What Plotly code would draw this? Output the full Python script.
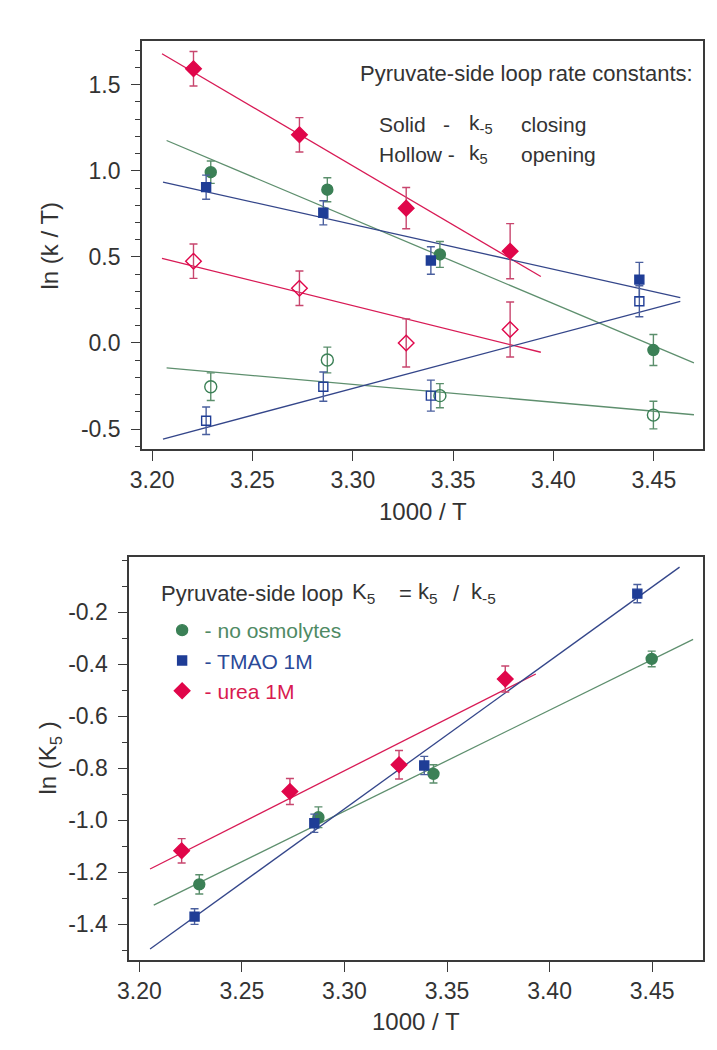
import plotly.graph_objects as go

W, H = 717, 1050

# ---------------- data ----------------
# 1000/T values for each condition
x_none = [3.2292, 3.2873, 3.3434, 3.4498]
x_tmao = [3.2269, 3.2853, 3.3389, 3.4428]
x_urea = [3.2206, 3.2734, 3.3266, 3.3784]

# Top panel: ln(k/T); solid = k-5 (closing), hollow = k5 (opening)
none_close = [0.992, 0.890, 0.514, -0.041]
none_close_err = [0.065, 0.07, 0.075, 0.09]
tmao_close = [0.905, 0.756, 0.479, 0.368]
tmao_close_err = [0.07, 0.07, 0.08, 0.10]
urea_close = [1.593, 1.209, 0.783, 0.533]
urea_close_err = [0.10, 0.10, 0.12, 0.16]

none_open = [-0.254, -0.099, -0.306, -0.419]
none_open_err = [0.08, 0.075, 0.07, 0.08]
tmao_open = [-0.452, -0.254, -0.306, 0.242]
tmao_open_err = [0.08, 0.085, 0.09, 0.09]
urea_open = [0.475, 0.318, 0.0, 0.078]
urea_open_err = [0.10, 0.10, 0.14, 0.16]

# fitted lines (end points, top panel)
fit_x_none = [3.2072, 3.4700]
fit_x_tmao = [3.2054, 3.4632]
fit_x_urea = [3.2049, 3.3937]
fit_none_close = [1.176, -0.116]
fit_tmao_close = [0.934, 0.264]
fit_urea_close = [1.680, 0.386]
fit_none_open = [-0.145, -0.417]
fit_tmao_open = [-0.558, 0.242]
fit_urea_open = [0.492, -0.054]

# Bottom panel: ln(K5)
none_K = [-1.247, -0.989, -0.822, -0.380]
none_K_err = [0.037, 0.04, 0.035, 0.03]
tmao_K = [-1.371, -1.012, -0.790, -0.129]
tmao_K_err = [0.03, 0.035, 0.035, 0.035]
urea_K = [-1.118, -0.890, -0.787, -0.457]
urea_K_err = [0.047, 0.05, 0.055, 0.05]

fitK_x_none = [3.2070, 3.4700]
fitK_x_tmao = [3.2052, 3.4634]
fitK_x_urea = [3.2052, 3.3933]
fitK_none = [-1.327, -0.305]
fitK_tmao = [-1.496, -0.027]
fitK_urea = [-1.188, -0.438]

x_ticks = [3.20, 3.25, 3.30, 3.35, 3.40, 3.45]
top_y_ticks = [-0.5, 0.0, 0.5, 1.0, 1.5]
bot_y_ticks = [-1.4, -1.2, -1.0, -0.8, -0.6, -0.4, -0.2]

# ---------------- styles ----------------
GREEN = "#3b8056"
BLUE = "#1f3d96"
RED = "#e0064a"
GREEN_L = "#5e8f6e"
BLUE_L = "#34468a"
RED_L = "#d81a55"
GREEN_E = "#5b8f6c"
BLUE_E = "#4a5f9e"
RED_E = "#c8466e"

FONT = "Liberation Sans, Arial, sans-serif"

fig = go.Figure()


def line(xs, ys, color, xa, ya):
    fig.add_trace(go.Scatter(x=xs, y=ys, mode="lines", line=dict(color=color, width=1.3),
                             xaxis=xa, yaxis=ya, showlegend=False, hoverinfo="skip"))


def pts(xs, ys, err, color, ecolor, symbol, size, xa, ya, name=None, legend=False):
    fig.add_trace(go.Scatter(
        x=xs, y=ys, mode="markers", xaxis=xa, yaxis=ya, name=name, showlegend=legend,
        error_y=dict(type="data", array=err, visible=True, color=ecolor, thickness=1.4, width=4),
        marker=dict(symbol=symbol, size=size, color=color,
                    line=dict(color=color, width=1.4)),
    ))


# top panel lines
line(fit_x_urea, fit_urea_close, RED_L, "x", "y")
line(fit_x_none, fit_none_close, GREEN_L, "x", "y")
line(fit_x_tmao, fit_tmao_close, BLUE_L, "x", "y")
line(fit_x_urea, fit_urea_open, RED_L, "x", "y")
line(fit_x_none, fit_none_open, GREEN_L, "x", "y")
line(fit_x_tmao, fit_tmao_open, BLUE_L, "x", "y")

# top panel points
pts(x_urea, urea_close, urea_close_err, RED, RED_E, "diamond", 12, "x", "y")
pts(x_none, none_close, none_close_err, GREEN, GREEN_E, "circle", 11, "x", "y")
pts(x_tmao, tmao_close, tmao_close_err, BLUE, BLUE_E, "square", 9, "x", "y")
pts(x_urea, urea_open, urea_open_err, RED, RED_E, "diamond-open", 12, "x", "y")
pts(x_none, none_open, none_open_err, GREEN, GREEN_E, "circle-open", 12, "x", "y")
pts(x_tmao, tmao_open, tmao_open_err, BLUE, BLUE_E, "square-open", 9, "x", "y")

# bottom panel lines
line(fitK_x_urea, fitK_urea, RED_L, "x2", "y2")
line(fitK_x_none, fitK_none, GREEN_L, "x2", "y2")
line(fitK_x_tmao, fitK_tmao, BLUE_L, "x2", "y2")

# bottom panel points (with legend)
pts(x_none, none_K, none_K_err, GREEN, GREEN_E, "circle", 11, "x2", "y2",
    name='<span style="color:#4f8a64">- no osmolytes</span>', legend=True)
pts(x_tmao, tmao_K, tmao_K_err, BLUE, BLUE_E, "square", 9, "x2", "y2",
    name='<span style="color:#2b4a98">- TMAO 1M</span>', legend=True)
pts(x_urea, urea_K, urea_K_err, RED, RED_E, "diamond", 12, "x2", "y2",
    name='<span style="color:#d81a50">- urea 1M</span>', legend=True)

axis_common = dict(showline=True, linecolor="#3a3a3a", linewidth=1.5, mirror=True,
                   ticks="outside", tickcolor="#3a3a3a", tickwidth=1.3,
                   showgrid=False, zeroline=False,
                   tickfont=dict(family=FONT, size=23, color="#333333"))


def px(v):
    return v / W


def py(v):
    return 1 - v / H


fig.update_layout(
    width=W, height=H, margin=dict(l=0, r=0, t=0, b=0),
    paper_bgcolor="white", plot_bgcolor="white",
    font=dict(family=FONT, color="#333333"),
    xaxis=dict(domain=[px(124), px(695)], range=[3.1949, 3.4747], anchor="y",
               tickvals=x_ticks, ticktext=[f"{v:.2f}" for v in x_ticks], ticklen=10,
               **axis_common),
    yaxis=dict(domain=[py(441), py(33)], range=[-0.616, 1.754], anchor="x",
               tickvals=top_y_ticks, ticktext=[f"{v:.1f}" for v in top_y_ticks], ticklen=9,
               ticklabelstandoff=6,
               minor=dict(dtick=0.1, tick0=0, ticks="outside", ticklen=5,
                          tickcolor="#3a3a3a", tickwidth=1.2),
               **axis_common),
    xaxis2=dict(domain=[px(111), px(695)], range=[3.195, 3.475], anchor="y2",
                tickvals=x_ticks, ticktext=[f"{v:.2f}" for v in x_ticks], ticklen=10,
                **axis_common),
    yaxis2=dict(domain=[py(952), py(549)], range=[-1.538, 0.012], anchor="x2",
                tickvals=bot_y_ticks, ticktext=[f"{v:.1f}" for v in bot_y_ticks], ticklen=9,
                ticklabelstandoff=6,
                minor=dict(dtick=0.1, tick0=0, ticks="outside", ticklen=5,
                           tickcolor="#3a3a3a", tickwidth=1.2),
                **axis_common),
    legend=dict(x=px(142), y=py(602), xanchor="left", yanchor="top",
                bgcolor="rgba(0,0,0,0)", borderwidth=0, itemwidth=35,
                font=dict(family=FONT, size=21), tracegroupgap=0),
)

ann = []


def text(s, x, y, size=22, color="#333333", xanchor="left", angle=0):
    ann.append(dict(text=s, x=px(x), y=py(y), xref="paper", yref="paper",
                    xanchor=xanchor, yanchor="middle", showarrow=False, textangle=angle,
                    font=dict(family=FONT, size=size, color=color)))


# axis titles
text("1000 / T", 410, 503, size=24, xanchor="center")
text("ln (k / T)", 30, 237, size=24, xanchor="center", angle=-90)
text("1000 / T", 403, 1013, size=24, xanchor="center")
text("ln (K<sub>5</sub> )", 30, 750, size=24, xanchor="center", angle=-90)

# top annotation
text("Pyruvate-side loop rate constants:", 344, 66)
text("Solid", 363, 116, size=21)
text("-", 428, 116, size=21)
text("k<sub>-5</sub>", 455, 116, size=21)
text("closing", 508, 116, size=21)
text("Hollow -", 363, 146, size=21)
text("k<sub>5</sub>", 455, 146, size=21)
text("opening", 508, 146, size=21)

# bottom legend title
text("Pyruvate-side loop", 141, 585)
text("K<sub>5</sub>", 336, 585)
text("=", 383, 585)
text("k<sub>5</sub>", 403, 585)
text("/", 438, 585)
text("k<sub>-5</sub>", 457, 585)

fig.update_layout(annotations=ann)

fig.write_html("out.html")
